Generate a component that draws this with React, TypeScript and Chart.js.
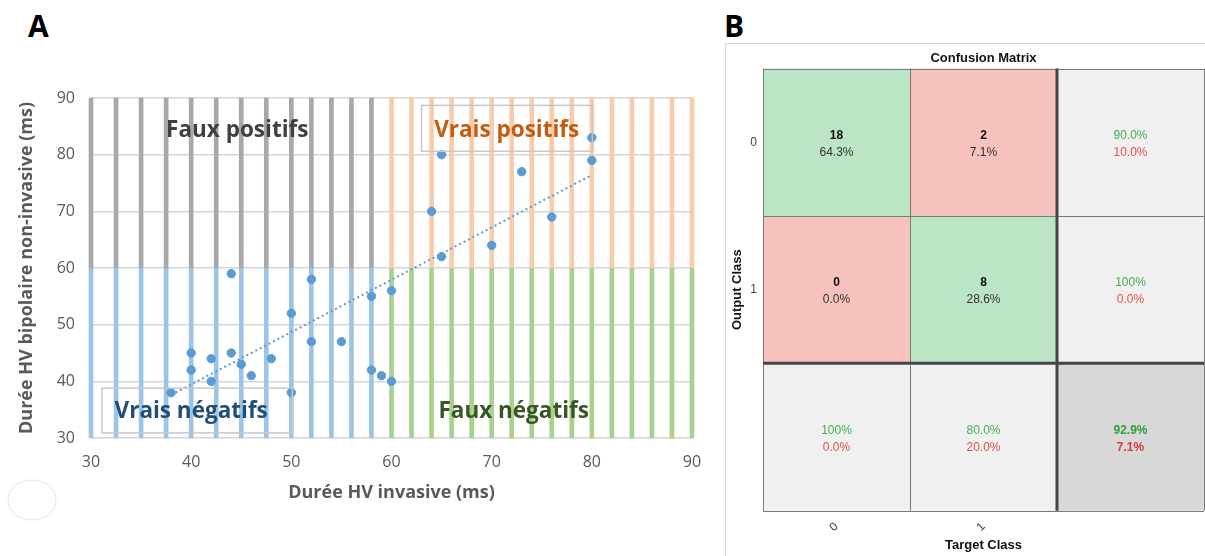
import React, { useEffect, useRef } from "react";
import { Chart, registerables } from "chart.js";

Chart.register(...registerables);

// ---------- Panel A data ----------
const pointsX = [44, 52, 58, 60, 50, 52, 55, 40, 44, 40, 42, 45, 48, 42, 46, 58, 59, 60, 38, 50, 65, 80, 80, 73, 64, 76, 70, 65];
const pointsY = [59, 58, 55, 56, 52, 47, 47, 45, 45, 42, 44, 43, 44, 40, 41, 42, 41, 40, 38, 38, 80, 83, 79, 77, 70, 69, 64, 62];
const trendX = [38, 80];
const trendY = [37.6, 76.4];
const leftBarsX = [30, 32.5, 35, 37.5, 40, 42.5, 45, 47.5, 50, 52, 54, 56, 58];
const rightBarsX = [60, 62, 64, 66, 68, 70, 72, 74, 76, 78, 80, 82, 84, 86, 88, 90];
const lowerBand = [30, 60];
const upperBand = [60, 90];
const axisTicksA = [30, 40, 50, 60, 70, 80, 90];
const quadrantLabels = ["Faux positifs", "Vrais positifs", "Vrais négatifs", "Faux négatifs"];

// ---------- Panel B data ----------
const targetClasses = ["0", "1", ""];
const outputClasses = ["0", "1"];
const matrixCounts = [[18, 2], [0, 8]];
const matrixPercents = [["64.3%", "7.1%"], ["0.0%", "28.6%"]];
const rowCorrect = ["90.0%", "100%"];
const rowWrong = ["10.0%", "0.0%"];
const colCorrect = ["100%", "80.0%"];
const colWrong = ["0.0%", "20.0%"];
const overall = ["92.9%", "7.1%"];

const FONT_A = "'Open Sans', 'Noto Sans', sans-serif";
const FONT_B = "'Liberation Sans', Arial, sans-serif";

const annotationStyle = [
  { x: 44.6, y: 84.3, color: "#404040", box: null as null | number[] },
  { x: 71.5, y: 84.3, color: "#C55A11", box: [63.0, 80.05, 88.7, 80.6] },
  { x: 40.0, y: 34.6, color: "#1F4E79", box: [31.1, 50.1, 38.8, 30.9] },
  { x: 72.2, y: 34.6, color: "#375623", box: null as null | number[] },
];

const annotationPluginA = {
  id: "quadrantText",
  afterDatasetsDraw(chart: any) {
    const { ctx, scales } = chart;
    const xs = scales.x;
    const ys = scales.y;
    ctx.save();
    annotationStyle.forEach((a, i) => {
      if (a.box) {
        const x0 = xs.getPixelForValue(a.box[0]);
        const x1 = xs.getPixelForValue(a.box[1]);
        const y0 = ys.getPixelForValue(a.box[2]);
        const y1 = ys.getPixelForValue(a.box[3]);
        ctx.strokeStyle = "#C8C8C8";
        ctx.lineWidth = 1.5;
        ctx.strokeRect(x0, y0, x1 - x0, y1 - y0);
      }
      ctx.fillStyle = a.color;
      ctx.font = `bold 22.5px ${FONT_A}`;
      ctx.textAlign = "center";
      ctx.textBaseline = "middle";
      ctx.fillText(quadrantLabels[i], xs.getPixelForValue(a.x), ys.getPixelForValue(a.y));
    });
    ctx.restore();
  },
  afterDraw(chart: any) {
    const { ctx } = chart;
    ctx.save();
    ctx.strokeStyle = "#E4E4E4";
    ctx.lineWidth = 1;
    ctx.beginPath();
    ctx.ellipse(32, 500, 24, 20, 0, 0, Math.PI * 2);
    ctx.stroke();
    ctx.restore();
  },
};

const cellGreen = "#BCE5C5";
const cellRed = "#F7C1BE";
const cellGray = "#F0F0F0";
const cellDark = "#D8D8D8";
const txtGreen = "#45AE52";
const txtRed = "#E0514A";

const matrixPluginB = {
  id: "matrixText",
  afterDatasetsDraw(chart: any) {
    const { ctx, scales, chartArea } = chart;
    const xs = scales.x;
    const ys = scales.y;
    const colW = (chartArea.right - chartArea.left) / targetClasses.length;
    ctx.save();
    ctx.strokeStyle = "#7A7A7A";
    ctx.lineWidth = 1;
    for (let i = 0; i <= 3; i++) {
      const px = Math.round(chartArea.left + i * colW) + 0.5;
      ctx.beginPath();
      ctx.moveTo(px, chartArea.top);
      ctx.lineTo(px, chartArea.bottom);
      ctx.stroke();
      const py = Math.round(ys.getPixelForValue(i)) + 0.5;
      ctx.beginPath();
      ctx.moveTo(chartArea.left, py);
      ctx.lineTo(chartArea.right, py);
      ctx.stroke();
    }
    ctx.strokeStyle = "#454545";
    ctx.lineWidth = 3;
    const sx = chartArea.left + 2 * colW;
    ctx.beginPath();
    ctx.moveTo(sx, chartArea.top);
    ctx.lineTo(sx, chartArea.bottom);
    ctx.stroke();
    const sy = ys.getPixelForValue(2);
    ctx.beginPath();
    ctx.moveTo(chartArea.left, sy);
    ctx.lineTo(chartArea.right, sy);
    ctx.stroke();

    ctx.textAlign = "center";
    ctx.textBaseline = "middle";
    const put = (col: number, row: number, a: string, b: string, ca: string, cb: string, boldA: boolean, boldB: boolean) => {
      const cx = xs.getPixelForValue(col);
      const cy = ys.getPixelForValue(row + 0.5);
      ctx.font = `${boldA ? "bold " : ""}12px ${FONT_B}`;
      ctx.fillStyle = ca;
      ctx.fillText(a, cx, cy - 6.5);
      ctx.font = `${boldB ? "bold " : ""}12px ${FONT_B}`;
      ctx.fillStyle = cb;
      ctx.fillText(b, cx, cy + 10.5);
    };
    for (let r = 0; r < 2; r++) {
      for (let c = 0; c < 2; c++) {
        put(c, r, String(matrixCounts[r][c]), matrixPercents[r][c], "#111111", "#333333", true, false);
      }
      put(2, r, rowCorrect[r], rowWrong[r], txtGreen, txtRed, false, false);
    }
    for (let c = 0; c < 2; c++) {
      put(c, 2, colCorrect[c], colWrong[c], txtGreen, txtRed, false, false);
    }
    put(2, 2, overall[0], overall[1], "#2E9E3E", "#D83A33", true, true);
    ctx.restore();
  },
};

function PanelA() {
  const ref = useRef<HTMLCanvasElement>(null);
  useEffect(() => {
    if (!ref.current) return;
    const bar = (xsArr: number[], band: number[], color: string) => ({
      type: "bar" as const,
      data: xsArr.map((x) => ({ x, y: band })),
      backgroundColor: color,
      borderWidth: 0,
      barThickness: 4,
      grouped: false,
      clip: false as any,
      order: 3,
    });
    const chart = new Chart(ref.current, {
      type: "bar",
      data: {
        datasets: [
          bar(leftBarsX, upperBand, "#A8A8A8"),
          bar(leftBarsX, lowerBand, "#9DC3E6"),
          bar(rightBarsX, upperBand, "#F8CBAD"),
          bar(rightBarsX, lowerBand, "#A9D18E"),
          {
            type: "line" as const,
            data: trendX.map((x, i) => ({ x, y: trendY[i] })),
            borderColor: "#5B9BD5",
            borderWidth: 2,
            borderDash: [2, 3],
            pointRadius: 0,
            fill: false,
            order: 2,
          },
          {
            type: "scatter" as const,
            data: pointsX.map((x, i) => ({ x, y: pointsY[i] })),
            backgroundColor: "#5B9BD5",
            borderColor: "#5B9BD5",
            pointRadius: 4.2,
            order: 1,
          },
        ] as any,
      },
      options: {
        animation: false,
        responsive: false,
        maintainAspectRatio: false,
        layout: { padding: { left: 0, right: 28, top: 98, bottom: 0 } },
        plugins: { legend: { display: false }, tooltip: { enabled: false } },
        scales: {
          x: {
            type: "linear",
            min: 30,
            max: 90,
            offset: false,
            afterBuildTicks: (s: any) => {
              s.ticks = axisTicksA.map((v) => ({ value: v }));
            },
            afterFit: (s: any) => {
              s.height = 118;
            },
            grid: { display: false, offset: false, drawTicks: false },
            border: { display: false },
            ticks: { padding: 15, color: "#595959", font: { family: FONT_A, size: 16 } },
            title: {
              display: true,
              text: "Durée HV invasive (ms)",
              color: "#595959",
              font: { family: FONT_A, size: 18, weight: "bold" },
              padding: { top: 0, bottom: 52 },
            },
          },
          y: {
            type: "linear",
            min: 30,
            max: 90,
            afterBuildTicks: (s: any) => {
              s.ticks = axisTicksA.map((v) => ({ value: v }));
            },
            afterFit: (s: any) => {
              s.width = 91;
            },
            grid: { color: "#D6D6D6", lineWidth: 1.5, drawTicks: false },
            border: { display: false },
            ticks: { padding: 16, color: "#595959", font: { family: FONT_A, size: 16 } },
            title: {
              display: true,
              text: "Durée HV bipolaire non-invasive (ms)",
              color: "#595959",
              font: { family: FONT_A, size: 18, weight: "bold" },
              padding: { top: 16, bottom: 0 },
            },
          },
        },
      } as any,
      plugins: [annotationPluginA],
    });
    return () => chart.destroy();
  }, []);
  return (
    <canvas
      ref={ref}
      width={720}
      height={556}
      style={{ position: "absolute", left: 0, top: 0, width: 720, height: 556 }}
    />
  );
}

function PanelB() {
  const ref = useRef<HTMLCanvasElement>(null);
  useEffect(() => {
    if (!ref.current) return;
    const rowColors = [
      [cellGreen, cellRed, cellGray],
      [cellRed, cellGreen, cellGray],
      [cellGray, cellGray, cellDark],
    ];
    const datasets = rowColors.map((colors, r) => ({
      data: targetClasses.map(() => [r, r + 1]),
      backgroundColor: colors,
      borderWidth: 0,
      barPercentage: 1,
      categoryPercentage: 1,
      grouped: false,
    }));
    const chart = new Chart(ref.current, {
      type: "bar",
      data: { labels: targetClasses, datasets: datasets as any },
      options: {
        animation: false,
        responsive: false,
        maintainAspectRatio: false,
        layout: { padding: { left: 0, right: 2, top: 0, bottom: 0 } },
        plugins: {
          legend: { display: false },
          tooltip: { enabled: false },
          title: {
            display: true,
            text: "Confusion Matrix",
            fullSize: false,
            color: "#111111",
            font: { family: FONT_B, size: 13, weight: "bold" },
            padding: { top: 7, bottom: 2 },
          },
        },
        scales: {
          x: {
            type: "category",
            afterFit: (s: any) => {
              s.height = 45.3;
            },
            grid: { display: false, drawTicks: false },
            border: { display: false },
            ticks: {
              minRotation: 45,
              maxRotation: 45,
              autoSkip: false,
              padding: 9,
              color: "#444444",
              font: { family: FONT_B, size: 12 },
            },
            title: {
              display: true,
              text: "Target Class",
              color: "#111111",
              font: { family: FONT_B, size: 13, weight: "bold" },
              padding: { top: 0, bottom: 3 },
            },
          },
          y: {
            type: "linear",
            min: 0,
            max: 3,
            reverse: true,
            afterBuildTicks: (s: any) => {
              s.ticks = outputClasses.map((_, i) => ({ value: i + 0.5 }));
            },
            afterFit: (s: any) => {
              s.width = 37;
            },
            grid: { display: false, drawTicks: false },
            border: { display: false },
            ticks: {
              padding: 6,
              color: "#444444",
              font: { family: FONT_B, size: 12 },
              callback: (v: any) => outputClasses[Math.floor(Number(v))] ?? "",
            },
            title: {
              display: true,
              text: "Output Class",
              color: "#111111",
              font: { family: FONT_B, size: 13, weight: "bold" },
              padding: { top: 4, bottom: 0 },
            },
          },
        },
      } as any,
      plugins: [matrixPluginB],
    });
    return () => chart.destroy();
  }, []);
  return (
    <canvas
      ref={ref}
      width={480}
      height={512}
      style={{ position: "absolute", left: 726, top: 44, width: 480, height: 512 }}
    />
  );
}

export default function App() {
  return (
    <div
      style={{
        position: "absolute",
        left: 0,
        top: 0,
        width: 1205,
        height: 556,
        overflow: "hidden",
        background: "#ffffff",
      }}
    >
      <div
        style={{
          position: "absolute",
          left: 28,
          top: 11,
          fontFamily: FONT_A,
          fontWeight: 700,
          fontSize: 30,
          lineHeight: "30px",
          color: "#000",
        }}
      >
        A
      </div>
      <div
        style={{
          position: "absolute",
          left: 724,
          top: 11,
          fontFamily: FONT_A,
          fontWeight: 700,
          fontSize: 30,
          lineHeight: "30px",
          color: "#000",
        }}
      >
        B
      </div>
      <PanelA />
      <div
        style={{
          position: "absolute",
          left: 725,
          top: 43,
          width: 520,
          height: 540,
          borderLeft: "1px solid #D8D8D8",
          borderTop: "1px solid #D8D8D8",
        }}
      />
      <PanelB />
    </div>
  );
}
